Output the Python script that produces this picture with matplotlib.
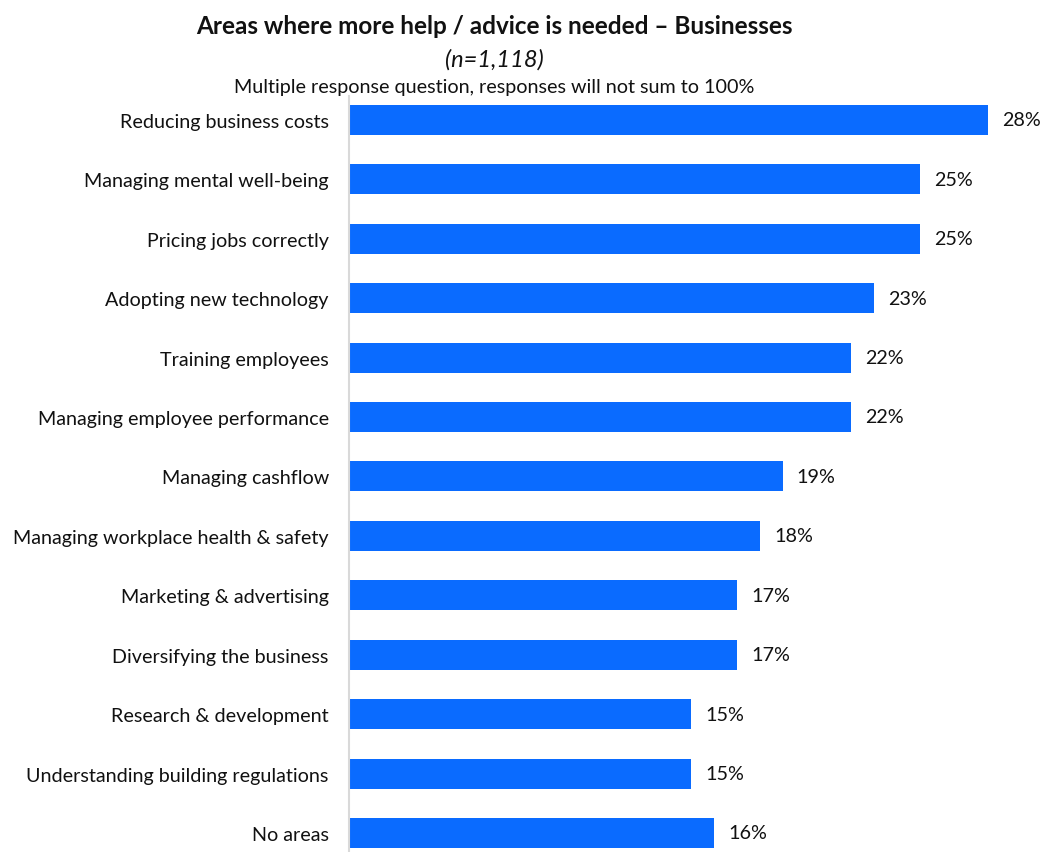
import matplotlib.pyplot as plt

plt.rcParams['font.family'] = ['Lato', 'DejaVu Sans']

categories = [
    "Reducing business costs",
    "Managing mental well-being",
    "Pricing jobs correctly",
    "Adopting new technology",
    "Training employees",
    "Managing employee performance",
    "Managing cashflow",
    "Managing workplace health & safety",
    "Marketing & advertising",
    "Diversifying the business",
    "Research & development",
    "Understanding building regulations",
    "No areas",
]
values = [28, 25, 25, 23, 22, 22, 19, 18, 17, 17, 15, 15, 16]

W, H = 1043, 853
fig = plt.figure(figsize=(W / 100, H / 100), dpi=100)
ax = fig.add_axes([349 / W, 0, 1 - 349 / W, (H - 97) / H])

ypos = list(range(len(categories)))
ax.barh(ypos, values, height=0.505, color="#0A6BFF")
ax.set_ylim(12.32, -0.40)
ax.set_xlim(0, 30.4)

for y, v in zip(ypos, values):
    ax.annotate(f"{v}%", (v, y), xytext=(14, 0), textcoords="offset pixels",
                ha="left", va="center", fontsize=14.2, color="#111111")

ax.set_yticks(ypos)
ax.set_yticklabels(categories, fontsize=14.2, color="#111111")
ax.tick_params(axis="y", length=0, pad=14.5)
ax.set_xticks([])
for side in ("top", "right", "bottom"):
    ax.spines[side].set_visible(False)
ax.spines["left"].set_color("#d9d9d9")
ax.spines["left"].set_linewidth(1.5)

fig.text(494 / W, 1 - 26 / H, "Areas where more help / advice is needed \u2013 Businesses",
         ha="center", va="center", fontsize=17.5, fontweight="bold", color="#111111")
fig.text(494 / W, 1 - 60 / H, "(n=1,118)", ha="center", va="center",
         fontsize=17, style="italic", color="#111111")
fig.text(494 / W, 1 - 87 / H, "Multiple response question, responses will not sum to 100%",
         ha="center", va="center", fontsize=14.2, color="#111111")

fig.savefig("out.png", dpi=100)
